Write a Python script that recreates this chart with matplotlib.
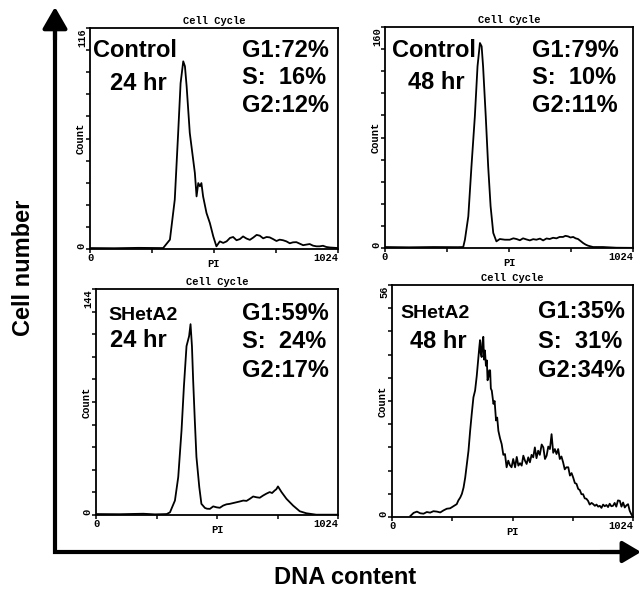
import numpy as np
import matplotlib
matplotlib.use("Agg")
import matplotlib.pyplot as plt

plt.rcParams['font.family'] = ['Liberation Sans', 'DejaVu Sans']

# ---- data ----
panel_names = ["Control", "Control", "SHetA2", "SHetA2"]
panel_hours = ["24 hr", "48 hr", "24 hr", "48 hr"]
g1_pct = [72, 79, 59, 35]
s_pct = [16, 10, 24, 31]
g2_pct = [12, 11, 17, 34]
y_max = [116, 160, 144, 56]

ch1 = [0, 100, 200, 289, 302, 330, 350, 364, 374, 385, 392, 399, 412, 426, 433, 440,
       447, 454, 460, 467, 481, 495, 509, 522, 536, 550, 564, 578, 591, 605, 619, 632,
       646, 660, 674, 688, 701, 715, 729, 742, 756, 770, 783, 797, 811, 825, 838, 852,
       866, 880, 893, 907, 921, 935, 948, 962, 976, 990, 1024]
cnt1 = [0.5, 0.4, 0.6, 0.5, 0.5, 4.9, 25.9, 60.9, 87, 98.5, 95.9, 85.4, 60.9, 46.9, 39.9, 27.6,
        34.6, 32.9, 34.6, 27.6, 18.9, 13.6, 6.6, 1.4, 4.0, 3.2, 4.0, 5.8, 6.3, 4.6, 5.2, 6.6,
        5.5, 4.8, 6.0, 7.4, 7.0, 5.6, 6.3, 6.1, 5.2, 4.2, 4.9, 4.6, 4.0, 3.0, 3.5, 3.6,
        2.8, 2.0, 2.3, 2.6, 1.75, 1.4, 1.4, 1.7, 1.05, 0.8, 0.5]

ch2 = [0, 100, 200, 300, 323, 330, 344, 357, 371, 382, 392, 399, 405, 416, 426, 436,
       447, 460, 474, 495, 515, 530, 543, 557, 570, 584, 598, 612, 625, 640, 653, 667,
       680, 694, 708, 721, 735, 745, 756, 766, 777, 787, 797, 808, 818, 828, 838, 859,
       900, 955, 1024]
cnt2 = [0.7, 0.5, 0.7, 0.6, 0.7, 6.0, 22.9, 59.1, 95.3, 131.5, 148.4, 146, 131.5, 95.3, 59.1, 30.2,
        10.9, 4.8, 6.5, 6.0, 6.0, 7.0, 6.5, 5.6, 7.0, 6.2, 5.5, 6.4, 6.0, 6.8, 5.5, 6.9,
        6.5, 7.4, 7.0, 8.0, 8.0, 8.8, 8.4, 7.6, 8.0, 7.0, 6.5, 5.0, 3.6, 2.5, 1.7, 0.7,
        0.7, 0.2, 0.1]

ch3 = [0, 100, 200, 250, 299, 313, 334, 348, 362, 372, 383, 394, 400, 406, 411, 418,
       425, 437, 446, 461, 470, 482, 496, 510, 524, 538, 552, 566, 580, 594, 608, 623,
       637, 651, 665, 679, 693, 707, 721, 735, 745, 756, 763, 770, 785, 806, 834, 862,
       890, 932, 1024]
cnt3 = [0.6, 0.5, 0.8, 0.4, 0.6, 1.7, 9.2, 24.2, 54.1, 82, 107.6, 114, 121.6, 107.6, 86.2, 60.6,
        37, 17.8, 7.1, 4.5, 4.0, 3.9, 5.5, 4.9, 4.6, 6.0, 6.8, 7.1, 7.6, 8.1, 8.6, 9.2,
        9.0, 10.3, 11.8, 11.3, 11.0, 12.4, 13.6, 14.6, 14.0, 15.6, 16.4, 18.2, 14.6, 10.3, 6.0, 2.4,
        1.1, 0.2, 0.2]

ch4 = [78, 92, 106, 120, 134, 148, 162, 176, 191, 205, 219, 233, 247, 261, 275, 282,
       290, 297, 304, 311, 318, 325, 332, 339, 346, 353, 360, 367, 371, 374, 377, 381,
       384, 388, 391, 395, 399, 403, 406, 410, 413, 417, 420, 424, 431, 436, 442, 447,
       452, 459, 466, 473, 480, 487, 494, 501, 508, 515, 523, 530, 537, 544, 551, 558,
       565, 572, 579, 586, 593, 600, 607, 614, 621, 628, 636, 643, 650, 657, 664, 671,
       678, 685, 692, 699, 706, 713, 720, 727, 734, 741, 749, 756, 763, 770, 777, 784,
       791, 798, 805, 812, 819, 826, 833, 840, 848, 855, 862, 869, 876, 883, 890, 897,
       904, 911, 918, 925, 932, 939, 946, 953, 960, 968, 975, 982, 989, 996, 1003, 1010,
       1017, 1024]
cnt4 = [0.24, 1.0, 1.3, 0.9, 0.8, 1.2, 1.05, 1.4, 1.3, 1.1, 1.6, 2.0, 2.1, 2.6, 3.1, 4.0,
        4.7, 5.6, 7.1, 9.5, 12.8, 16.0, 20.8, 25.0, 28.9, 30.5, 34.0, 38.6, 41.0, 42.7, 39.5, 38.6,
        42.0, 43.5, 38.0, 40.2, 36.5, 37.8, 33.0, 33.8, 35.4, 35.4, 31.0, 30.5, 27.3, 28.0, 23.3, 24.0,
        20.8, 19.0, 17.6, 15.0, 15.2, 12.0, 13.6, 12.5, 12.0, 14.0, 12.0, 14.5, 12.4, 13.0, 12.4, 14.8,
        13.6, 12.8, 14.4, 13.2, 15.0, 14.4, 16.8, 14.2, 16.0, 15.0, 17.5, 16.8, 14.0, 14.8, 17.0, 16.4,
        20.0, 15.5, 16.4, 15.2, 16.4, 14.0, 14.6, 13.2, 11.5, 12.0, 12.0, 10.0, 10.6, 9.5, 8.2, 8.0,
        6.8, 6.5, 5.5, 5.5, 4.5, 4.4, 3.9, 3.0, 3.4, 3.1, 2.7, 3.0, 2.5, 2.7, 2.2, 3.0,
        2.6, 2.9, 2.4, 3.2, 2.6, 2.7, 3.4, 2.5, 4.0, 3.9, 2.5, 3.5, 2.3, 2.8, 3.1, 1.5,
        0.65, 0.0]

channels = [ch1, ch2, ch3, ch4]
counts = [cnt1, cnt2, cnt3, cnt4]

# ---- layout (pixels, figure is 641 x 589) ----
W, H = 641, 589
rects = [(90, 28, 338, 249), (385, 27, 633, 248), (96, 289, 338, 515), (392, 285, 633, 517)]
name_pos = [(93, 57), (392, 57), (108, 320), (400, 318)]
name_size = [17, 17, 14, 14]
hour_pos = [(110, 90), (408, 89), (110, 347), (410, 348)]
stat_pos = [(242, 57), (532, 57), (242, 320), (538, 318)]
stat_step = [27.5, 27.5, 28.5, 29.5]

fig = plt.figure(figsize=(W / 100, H / 100), dpi=100)

small = dict(family='Liberation Mono', fontweight='bold', fontsize=7.5)

for i, (l, t, r, b) in enumerate(rects):
    ax = fig.add_axes([l / W, (H - b) / H, (r - l) / W, (b - t) / H])
    ax.plot(channels[i], counts[i], color='black', lw=1.3)
    ax.set_xlim(0, 1024)
    ax.set_ylim(0, y_max[i])
    ax.set_xticks([0, 256, 512, 768, 1024])
    ax.set_yticks(np.linspace(0, y_max[i], 11))
    ax.set_xticklabels([])
    ax.set_yticklabels([])
    ax.tick_params(direction='out', length=3, width=1.1)
    for sp in ax.spines.values():
        sp.set_linewidth(1.3)

# overlay in pixel coordinates for arrows and text
ov = fig.add_axes([0, 0, 1, 1])
ov.set_xlim(0, W)
ov.set_ylim(H, 0)
ov.axis('off')
ov.patch.set_visible(False)

ov.plot([55, 55, 625], [24, 552, 552], color='black', lw=3, solid_joinstyle='miter')
ov.annotate('', xy=(55, 7), xytext=(55, 40),
            arrowprops=dict(arrowstyle='-|>,head_length=1.3,head_width=0.75',
                            lw=3, color='black', shrinkA=0, shrinkB=0))
ov.annotate('', xy=(641, 552), xytext=(600, 552),
            arrowprops=dict(arrowstyle='-|>,head_length=1.1,head_width=0.65',
                            lw=3, color='black', shrinkA=0, shrinkB=0))

ov.text(24, 268, "Cell number", rotation=90, ha='center', va='center',
        fontsize=17, fontweight='bold')
ov.text(345, 577, "DNA content", ha='center', va='center',
        fontsize=17, fontweight='bold')

for i, (l, t, r, b) in enumerate(rects):
    cx = (l + r) / 2
    ov.text(cx, t - 7, "Cell Cycle", ha='center', va='center', **small)
    ov.text(cx, b + 15, "PI", ha='center', va='center', **small)
    ov.text(l, b + 9, "0", ha='center', va='center', **small)
    ov.text(r, b + 9, "1024", ha='right', va='center', **small)
    ov.text(l - 9, (t + b) / 2, "Count", rotation=90, ha='center', va='center', **small)
    ov.text(l - 8, t, str(y_max[i]), rotation=90, ha='center', va='top', **small)
    ov.text(l - 9, b - 3, "0", rotation=90, ha='center', va='center', **small)

    ov.text(*name_pos[i], panel_names[i], ha='left', va='baseline',
            fontsize=name_size[i], fontweight='bold')
    ov.text(*hour_pos[i], panel_hours[i], ha='left', va='baseline',
            fontsize=17, fontweight='bold')
    sx, sy = stat_pos[i]
    lines = [f"G1:{g1_pct[i]}%", f"S:  {s_pct[i]}%", f"G2:{g2_pct[i]}%"]
    for k, txt in enumerate(lines):
        ov.text(sx, sy + k * stat_step[i], txt, ha='left', va='baseline',
                fontsize=17, fontweight='bold')

fig.savefig("out.png", dpi=100)
